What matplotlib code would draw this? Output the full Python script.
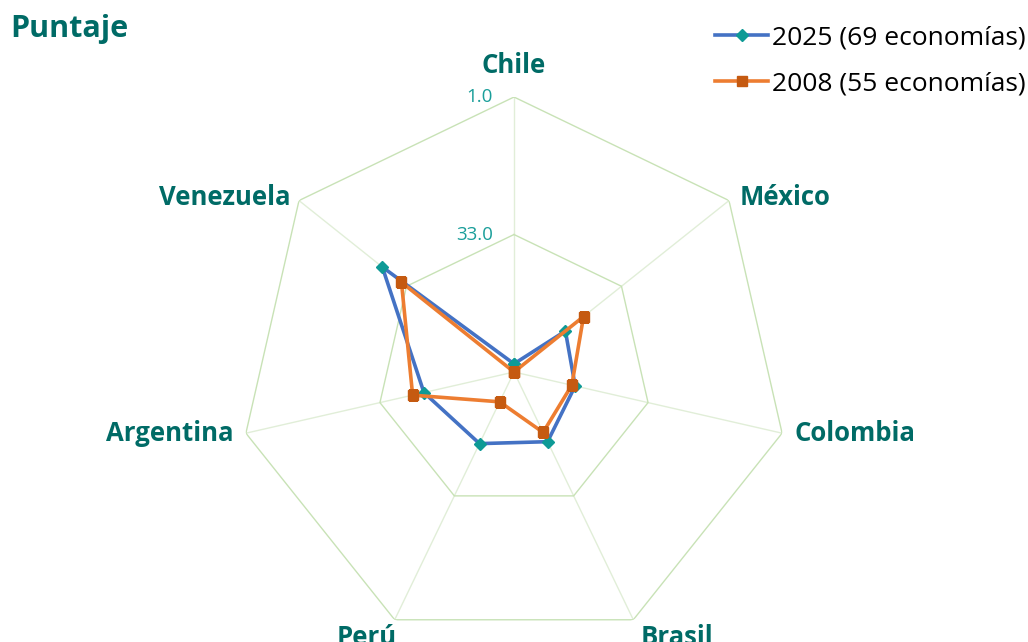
import numpy as np
import matplotlib.pyplot as plt

paises = ["Chile", "México", "Colombia", "Brasil", "Perú", "Argentina", "Venezuela"]
v2025 = [63.1, 49.7, 50.4, 47.0, 46.5, 43.5, 25.8]
v2008 = [65.0, 44.3, 51.2, 49.4, 57.3, 40.8, 31.5]
anillos = [1.0, 33.0]
serie_2025 = "2025 (69 economías)"
serie_2008 = "2008 (55 economías)"

plt.rcParams['font.family'] = ['Open Sans', 'DejaVu Sans']

verde = '#006b66'
n = len(paises)
th = np.arange(n) * 2 * np.pi / n
th_c = np.append(th, th[0])

fig = plt.figure(figsize=(10.28, 6.42), dpi=100)
ax = fig.add_axes([0.2325, -0.0078, 0.535, 0.8567], projection='polar')
ax.set_theta_offset(np.pi / 2)
ax.set_theta_direction(-1)
ax.set_ylim(65, 1)
ax.grid(False)
ax.spines['polar'].set_visible(False)
ax.set_xticks([])
ax.set_yticks([])
ax.patch.set_alpha(0)

# rejilla heptagonal
for t in th:
    ax.plot([t, t], [65, 1], color='#e1eed8', lw=1, zorder=1)
for a in anillos:
    ax.plot(th_c, [a] * (n + 1), color='#c8e2b6', lw=1, zorder=1)
    ax.annotate(f"{a:.1f}", xy=(0, a), xytext=(-15, 0), textcoords='offset points',
                ha='right', va='center', color='#1a9e9a', fontsize=13.5)

ax.plot(th_c, v2025 + v2025[:1], color='#4472c4', lw=2.6, marker='D', ms=6,
        mfc='#0e9a96', mec='#0e9a96', label=serie_2025, zorder=3)
ax.plot(th_c, v2008 + v2008[:1], color='#ed7d31', lw=2.6, marker='s', ms=7,
        mfc='#c55a11', mec='#c55a11', label=serie_2008, zorder=4)

# etiquetas de categorias
offs = [(0, 13, 'center', 'bottom'), (8, 2, 'left', 'center'), (9, 0, 'left', 'center'),
        (5, -3, 'left', 'top'), (-20, -3, 'center', 'top'), (-9, 0, 'right', 'center'),
        (-6, 2, 'right', 'center')]
for t, p, (dx, dy, ha, va) in zip(th, paises, offs):
    ax.annotate(p, xy=(t, 1), xytext=(dx, dy), textcoords='offset points',
                ha=ha, va=va, fontsize=18.5, fontweight='bold', color=verde,
                annotation_clip=False)

fig.text(0.01, 0.955, "Puntaje", fontsize=22, fontweight='bold', color=verde,
         ha='left', va='center')

fig.legend(loc='upper right', bbox_to_anchor=(1.021, 0.998), frameon=False,
           fontsize=19, handlelength=2.0, handletextpad=0.15, labelspacing=0.8)

fig.savefig('out.png', dpi=100)
